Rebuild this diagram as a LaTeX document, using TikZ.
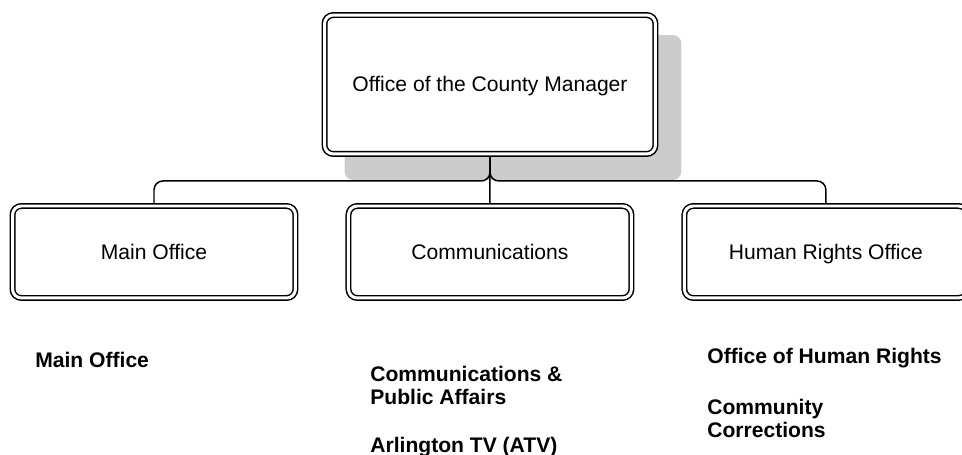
\documentclass[tikz,border=0pt]{standalone}
\usepackage{fontspec}
\setmainfont{Liberation Sans}
\usetikzlibrary{positioning, backgrounds}

\begin{document}
\begin{tikzpicture}[
x=0.02cm, y=-0.02cm,
node distance=1.06cm,
box/.style={draw, double, double distance=1.7pt, line width=0.85pt,
rounded corners=5pt, fill=white, outer sep=0pt, align=center,
text height=0.8em, text depth=0pt,
font=\fontsize{12pt}{13pt}\selectfont},
unit/.style={box, minimum width=5.66cm, minimum height=1.84cm},
head/.style={box, minimum width=6.62cm, minimum height=2.78cm},
link/.style={line width=0.85pt, rounded corners=5pt},
item/.style={anchor=base west, inner sep=0pt, align=left,
font=\fontsize{12pt}{13pt}\selectfont\bfseries}
]
\useasboundingbox (0,0) rectangle (962,455);

% boxes
\node[head] (manager) at (490,84.5) {Office of the County Manager};
\node[unit] (mainbox) at (154,252) {Main Office};
\node[unit, right=of mainbox] (commbox) {Communications};
\node[unit, right=of commbox] (hrbox) {Human Rights Office};

% sub units (base = last line)
\node[item] (mainsub) at (35,367) {Main Office};
\node[item] (commsub1) at (370,404) {Communications \&\\Public Affairs};
\node[item] (commsub2) at (370,452) {Arlington TV (ATV)};
\node[item] (hrsub1) at (707,363) {Office of Human Rights};
\node[item] (hrsub2) at (707,437) {Community\\Corrections};

\begin{scope}[on background layer]
\fill[black!20, rounded corners=5pt] ([shift={(20,20)}]manager.north west)
rectangle ([shift={(26,26)}]manager.south east);
\coordinate (level) at (0,181);
\coordinate (fork) at (manager.south |- level);
\draw[link] (mainbox.north) |- (fork) -- (manager.south);
\draw[link] (hrbox.north) |- (fork) -- (manager.south);
\draw[link] (manager.south) -- (commbox.north);
\end{scope}

\end{tikzpicture}
\end{document}
